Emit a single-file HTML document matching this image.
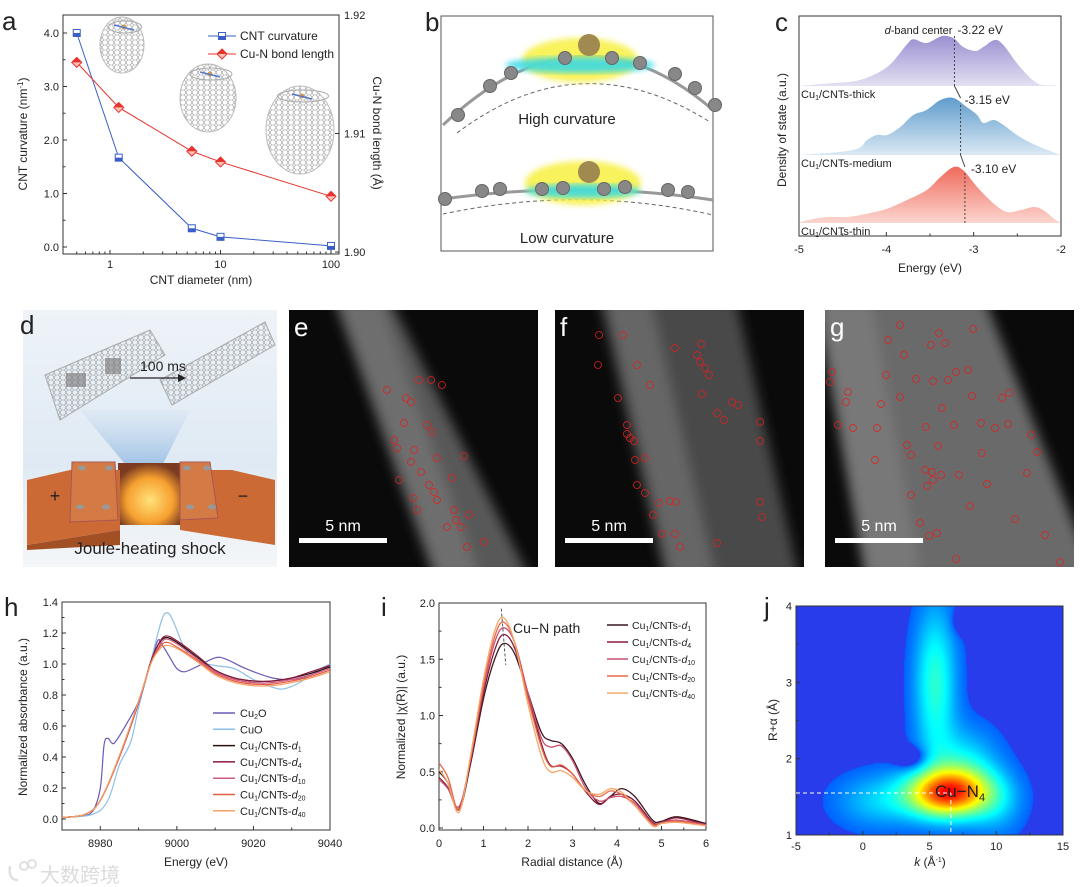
<!DOCTYPE html>
<html><head><meta charset="utf-8">
<style>
html,body{margin:0;padding:0;background:#fff;}
#wrap{position:relative;width:1080px;height:887px;overflow:hidden;font-family:"Liberation Sans",Arial,sans-serif;}
svg{position:absolute;left:0;top:0;}
canvas{position:absolute;}
</style></head>
<body>
<div id="wrap">
<canvas id="heat" width="267" height="229" style="left:796px;top:606px;"></canvas>
<svg id="svg" width="1080" height="887" viewBox="0 0 1080 887">
<defs>
<linearGradient id="gPur" x1="0" y1="0" x2="0" y2="1"><stop offset="0" stop-color="#9a8fd0"/><stop offset="1" stop-color="#e3e0f2"/></linearGradient>
<linearGradient id="gBlu" x1="0" y1="0" x2="0" y2="1"><stop offset="0" stop-color="#5f9ccc"/><stop offset="1" stop-color="#dbe9f4"/></linearGradient>
<linearGradient id="gRed" x1="0" y1="0" x2="0" y2="1"><stop offset="0" stop-color="#f06a5c"/><stop offset="1" stop-color="#fbd6cf"/></linearGradient>
<linearGradient id="gD" x1="0" y1="0" x2="0" y2="1"><stop offset="0" stop-color="#eef3f8"/><stop offset="0.6" stop-color="#dfeaf4"/><stop offset="1" stop-color="#f4f6f8"/></linearGradient>
<radialGradient id="gHot" cx="0.5" cy="0.6" r="0.6"><stop offset="0" stop-color="#ffe27a"/><stop offset="0.6" stop-color="#f7a030"/><stop offset="1" stop-color="#7a3b20"/></radialGradient>
<linearGradient id="gBeam" x1="0" y1="0" x2="0" y2="1"><stop offset="0" stop-color="#cfe0f0" stop-opacity="0.3"/><stop offset="1" stop-color="#6aa0d8" stop-opacity="0.6"/></linearGradient>
<pattern id="hex" width="6" height="5" patternUnits="userSpaceOnUse"><path d="M0 2.5 L1.5 0 L4.5 0 L6 2.5 L4.5 5 L1.5 5 Z" fill="none" stroke="#9a9a9a" stroke-width="0.6"/></pattern>
<filter id="blur3"><feGaussianBlur stdDeviation="3"/></filter>
<filter id="blur6"><feGaussianBlur stdDeviation="6"/></filter>
</defs>
<g id="root"></g>
</svg>
</div>
<script>
// ===== Panel a data =====
const aDiam = [0.5, 1.2, 5.5, 10, 100];
const aCurv = [4.0, 1.67, 0.35, 0.19, 0.02];
const aBond = [1.9160, 1.9122, 1.9085, 1.9076, 1.9047];
const aLeftTicks = [0, 1, 2, 3, 4];
const aRightTicks = [1.90, 1.91, 1.92];
const aXTicks = [1, 10, 100];
// ===== Panel c data =====
const cThickE = [-5,-4.64,-4.30,-3.99,-3.77,-3.69,-3.54,-3.36,-3.23,-3.12,-2.98,-2.89,-2.76,-2.66,-2.47,-2.27,-2.08,-2.0];
const cThickV = [0,2.7,6,19,41,46.7,43,50,47.7,39,35,39,46,41,19,2.7,0.5,0];
const cMedE = [-5,-4.38,-4.22,-4.11,-3.99,-3.84,-3.69,-3.54,-3.38,-3.23,-3.08,-2.96,-2.89,-2.77,-2.66,-2.47,-2.24,-2.0];
const cMedV = [0,5,15,20,20,28,40,45,55,57,48,40,32,35,30,18,8,0];
const cThinE = [-5,-4.91,-4.68,-4.45,-4.22,-3.99,-3.77,-3.54,-3.38,-3.23,-3.12,-2.96,-2.77,-2.62,-2.47,-2.31,-2.2,-2.08,-2.0];
const cThinV = [0,2.7,6,6,9.3,14.3,22.7,32.7,46,56,52.7,36,19.3,11,12.7,16,12.7,4.3,0];
const cCenters = [-3.22, -3.15, -3.10];
const cXTicks = [-5, -4, -3, -2];
// ===== Panel h data =====
const hCu2OE = [8970,8975,8978,8980,8981,8982,8983,8984,8987,8990,8993,8995,8996,8998,9000,9002,9005,9010,9013,9018,9025,9030,9035,9040];
const hCu2OV = [0.01,0.02,0.05,0.2,0.48,0.52,0.49,0.5,0.62,0.76,1.0,1.15,1.13,1.05,0.97,0.95,0.98,1.04,1.03,0.97,0.91,0.9,0.93,0.99];
const hCuOE = [8970,8978,8982,8985,8988,8990,8993,8996,8997.5,8999,9002,9005,9010,9015,9020,9025,9028,9032,9036,9040];
const hCuOV = [0.01,0.03,0.12,0.35,0.5,0.72,1.0,1.28,1.33,1.28,1.1,1.02,0.99,0.97,0.9,0.85,0.84,0.88,0.95,1.0];
const hSampE = [8970,8976,8980,8985,8990,8993,8995,8997,9000,9005,9010,9015,9020,9025,9030,9035,9040];
const hD1 = [0.01,0.03,0.12,0.40,0.75,1.00,1.12,1.17,1.14,1.05,0.96,0.91,0.89,0.89,0.91,0.94,0.98];
const hD4 = [0.01,0.03,0.12,0.40,0.75,1.00,1.12,1.18,1.15,1.06,0.96,0.91,0.89,0.89,0.91,0.95,0.99];
const hD10 = [0.01,0.03,0.12,0.40,0.75,0.99,1.10,1.16,1.13,1.04,0.95,0.90,0.88,0.88,0.90,0.93,0.97];
const hD20 = [0.01,0.03,0.12,0.40,0.76,0.99,1.09,1.14,1.11,1.03,0.94,0.89,0.87,0.87,0.89,0.92,0.96];
const hD40 = [0.01,0.03,0.12,0.41,0.76,0.99,1.08,1.12,1.10,1.02,0.93,0.88,0.86,0.86,0.88,0.91,0.95];
const hXTicks = [8980, 9000, 9020, 9040];
const hYTicks = [0,0.2,0.4,0.6,0.8,1.0,1.2,1.4];
// ===== Panel i data =====
const iR = [0,0.2,0.45,0.7,1.0,1.25,1.45,1.7,2.0,2.3,2.5,2.75,3.0,3.3,3.6,3.85,4.1,4.4,4.8,5.0,5.35,6.0];
const iD1 = [0.50,0.40,0.16,0.55,1.15,1.50,1.64,1.55,1.20,0.85,0.78,0.75,0.62,0.38,0.22,0.28,0.35,0.28,0.07,0.06,0.10,0.04];
const iD4 = [0.45,0.36,0.17,0.57,1.20,1.58,1.72,1.60,1.18,0.75,0.56,0.55,0.48,0.32,0.21,0.28,0.30,0.24,0.05,0.05,0.09,0.03];
const iD10 = [0.43,0.35,0.19,0.59,1.24,1.65,1.78,1.65,1.20,0.80,0.72,0.73,0.60,0.35,0.24,0.27,0.28,0.22,0.04,0.05,0.07,0.03];
const iD20 = [0.58,0.45,0.16,0.60,1.27,1.70,1.83,1.65,1.15,0.72,0.55,0.56,0.48,0.33,0.28,0.33,0.30,0.20,0.03,0.04,0.06,0.02];
const iD40 = [0.52,0.40,0.14,0.62,1.32,1.75,1.87,1.65,1.10,0.64,0.50,0.51,0.45,0.33,0.30,0.35,0.32,0.20,0.02,0.04,0.05,0.02];
const iXTicks = [0,1,2,3,4,5,6];
const iYTicks = [0,0.5,1.0,1.5,2.0];
// ===== Panel j data (wavelet components) =====
const jCompK = [6.3, 5.4, 7.5, 3.6, 7.3, 10.0, 1.0, 9.6];
const jCompR = [1.55, 3.0, 1.9, 2.02, 3.8, 1.4, 1.45, 2.95];
const jCompA = [0.80, 0.30, 0.22, -0.18, -0.08, 0.12, 0.16, -0.06];
const jCompSK = [2.2, 1.1, 1.8, 0.8, 0.5, 1.4, 2.2, 0.7];
const jCompSR = [0.22, 0.7, 0.35, 0.1, 0.12, 0.3, 0.25, 0.12];
const jXTicks = [-5,0,5,10,15];
const jYTicks = [1,2,3,4];

const NS = "http://www.w3.org/2000/svg";
const root = document.getElementById('root');
function el(tag, attrs, parent){ const e=document.createElementNS(NS,tag); for(const k in attrs) e.setAttribute(k,attrs[k]); (parent||root).appendChild(e); return e; }
function txt(x,y,s,size,anchor,parent,extra){ const t=el('text',Object.assign({x:x,y:y,'font-size':size,'text-anchor':anchor||'start',fill:'#222'},extra||{}),parent); t.innerHTML=s; return t; }
function smooth(pts){ if(pts.length<2) return ''; let d='M'+pts[0][0].toFixed(1)+' '+pts[0][1].toFixed(1);
  for(let i=0;i<pts.length-1;i++){ const p0=pts[i-1]||pts[i],p1=pts[i],p2=pts[i+1],p3=pts[i+2]||p2;
    const c1=[p1[0]+(p2[0]-p0[0])/6,p1[1]+(p2[1]-p0[1])/6], c2=[p2[0]-(p3[0]-p1[0])/6,p2[1]-(p3[1]-p1[1])/6];
    d+=' C'+c1[0].toFixed(1)+' '+c1[1].toFixed(1)+' '+c2[0].toFixed(1)+' '+c2[1].toFixed(1)+' '+p2[0].toFixed(1)+' '+p2[1].toFixed(1);}
  return d; }
function frame(x0,y0,x1,y1,g){ el('rect',{x:x0,y:y0,width:x1-x0,height:y1-y0,fill:'none',stroke:'#333','stroke-width':1},g); }

// ================= Panel a =================
(function(){
  const g=el('g',{});  
  const X0=63,X1=339,Y0=15,Y1=254;
  const xa=d=>110+Math.log10(d)*110.5, ya=c=>247-c*53.5, yr=b=>252-(b-1.90)/0.02*237;
  frame(X0,Y0,X1,Y1,g);
  txt(2,30,'a',26,'start',g);
  aLeftTicks.forEach(v=>{ const y=ya(v); el('line',{x1:X0,y1:y,x2:X0+4,y2:y,stroke:'#333'},g); txt(X0-4,y+4,v.toFixed(1),11,'end',g); const ym=ya(v+0.5); if(v<4) el('line',{x1:X0,y1:ym,x2:X0+2.5,y2:ym,stroke:'#333'},g);});
  aRightTicks.forEach(v=>{ const y=yr(v); el('line',{x1:X1,y1:y,x2:X1-4,y2:y,stroke:'#333'},g); txt(X1+5,y+4,v.toFixed(2),11,'start',g);});
  aXTicks.forEach(v=>{ const x=xa(v); el('line',{x1:x,y1:Y1,x2:x,y2:Y1-4,stroke:'#333'},g); txt(x,Y1+14,String(v),11,'middle',g);});
  [0.5,0.6,0.7,0.8,0.9,2,3,4,5,6,7,8,9,20,30,40,50,60,70,80,90].forEach(v=>{const x=xa(v); el('line',{x1:x,y1:Y1,x2:x,y2:Y1-2.5,stroke:'#333'},g);});
  const yl=txt(0,0,'CNT curvature (nm<tspan dy="-4" font-size="8">-1</tspan><tspan dy="4">)</tspan>',12,'middle',g,{transform:'translate(27,134) rotate(-90)'}); 
  const yr2=txt(0,0,'Cu-N bond length (Å)',12,'middle',g,{transform:'translate(373,133) rotate(90)'}); 
  const xl=txt(201,284,'CNT diameter (nm)',12,'middle',g); 
  [[122,45,22,28],[208,98,28,34],[300,130,34,44]].forEach(t=>{ const tg=el('g',{},g);  
    el('ellipse',{cx:t[0],cy:t[1],rx:t[2],ry:t[3],fill:'url(#hex)',stroke:'#bbb','stroke-width':1},tg);
    el('ellipse',{cx:t[0]+3,cy:t[1]-t[3]+10,rx:t[2]*0.75,ry:6,fill:'none',stroke:'#aaa','stroke-width':1},tg);
    el('circle',{cx:t[0]+2,cy:t[1]-t[3]+10,r:2.5,fill:'#d49a50'},tg);
    el('line',{x1:t[0]-8,y1:t[1]-t[3]+8,x2:t[0]+12,y2:t[1]-t[3]+13,stroke:'#5577cc','stroke-width':1.5},tg);});
  const bp=aDiam.map((d,i)=>[xa(d),ya(aCurv[i])]); const rp=aDiam.map((d,i)=>[xa(d),yr(aBond[i])]);
  const bl=el('polyline',{points:bp.map(p=>p.join(',')).join(' '),fill:'none',stroke:'#3a5fc6','stroke-width':1},g);  
  const rl=el('polyline',{points:rp.map(p=>p.join(',')).join(' '),fill:'none',stroke:'#e8322e','stroke-width':1},g);  
  function sq(x,y,gg){ el('rect',{x:x-3.5,y:y-3.5,width:7,height:7,fill:'#fff',stroke:'#3a5fc6','stroke-width':1},gg); el('rect',{x:x-3.5,y:y,width:7,height:3.5,fill:'#3a5fc6'},gg);}
  function dm(x,y,gg){ el('path',{d:`M${x} ${y-5}L${x+5} ${y}L${x} ${y+5}L${x-5} ${y}Z`,fill:'#fbc0b8',stroke:'#e8322e','stroke-width':1},gg); el('path',{d:`M${x-5} ${y}L${x+5} ${y}L${x} ${y-5}Z`,fill:'#e8322e'},gg);}
  bp.forEach(p=>{const m=el('g',{},g);   sq(p[0],p[1],m);});
  rp.forEach(p=>{const m=el('g',{},g);   dm(p[0],p[1],m);});
  const lg=el('g',{},g);  
  el('line',{x1:208,y1:36,x2:236,y2:36,stroke:'#3a5fc6'},lg); sq(222,36,lg); txt(240,40,'CNT curvature',12,'start',lg);
  el('line',{x1:208,y1:54,x2:236,y2:54,stroke:'#e8322e'},lg); dm(222,54,lg); txt(240,58,'Cu-N bond length',12,'start',lg);
})();

// ================= Panel b =================
(function(){
  const g=el('g',{});  
  txt(425,31,'b',26,'start',g);
  el('rect',{x:441,y:16,width:272,height:235,fill:'#fff',stroke:'#555','stroke-width':1},g);
  el('path',{d:'M457 133 Q580 40 710 122',fill:'none',stroke:'#666','stroke-dasharray':'4,3'},g);
  el('path',{d:'M443 125 Q580 -5 713 110',fill:'none',stroke:'#999','stroke-width':3},g);
  el('ellipse',{cx:580,cy:60,rx:58,ry:22,fill:'#f7f040',opacity:0.85,filter:'url(#blur3)'},g);
  el('ellipse',{cx:580,cy:65,rx:75,ry:8,fill:'#30d8e8',opacity:0.85,filter:'url(#blur3)'},g);
  el('circle',{cx:589,cy:45,r:11,fill:'#a08a50'},g);
  [[458,115],[490,86],[511,73],[565,58],[612,58],[640,63],[675,74],[695,88],[715,105]].forEach(p=>el('circle',{cx:p[0],cy:p[1],r:6.5,fill:'#888',stroke:'#666'},g));
  txt(567,124,'High curvature',15,'middle',g);
  el('path',{d:'M443 214 Q580 185 713 215',fill:'none',stroke:'#666','stroke-dasharray':'4,3'},g);
  el('path',{d:'M443 199 Q580 180 713 200',fill:'none',stroke:'#999','stroke-width':3},g);
  el('ellipse',{cx:583,cy:183,rx:58,ry:22,fill:'#f7f040',opacity:0.85,filter:'url(#blur3)'},g);
  el('ellipse',{cx:583,cy:191,rx:58,ry:7,fill:'#30d8e8',opacity:0.85,filter:'url(#blur3)'},g);
  el('circle',{cx:589,cy:172,r:11,fill:'#a08a50'},g);
  [[445,199],[482,191],[500,189],[542,189],[563,188],[604,189],[625,187],[668,190],[688,192]].forEach(p=>el('circle',{cx:p[0],cy:p[1],r:6.5,fill:'#888',stroke:'#666'},g));
  txt(567,243,'Low curvature',15,'middle',g);
})();

// ================= Panel c =================
(function(){
  const g=el('g',{});  
  const X0=799,X1=1061,Y0=16,Y1=236;
  const xc=e=>X0+(e+5)/3*(X1-X0);
  txt(775,31,'c',26,'start',g);
  frame(X0,Y0,X1,Y1,g);
  const sets=[[cThickE,cThickV,86,'url(#gPur)','dos-thick'],[cMedE,cMedV,155,'url(#gBlu)','dos-medium'],[cThinE,cThinV,223,'url(#gRed)','dos-thin']];
  sets.forEach(s=>{ const pts=s[0].map((e,i)=>[xc(e),s[2]-s[1][i]]);
    const a=el('path',{d:smooth(pts)+` L${X1} ${s[2]} L${X0} ${s[2]} Z`,fill:s[3]},g);  });
  const bases=[86,155,223];
  cCenters.forEach((c,i)=>{ const x=xc(c); el('line',{x1:x,y1:bases[i]-50,x2:x,y2:bases[i],stroke:'#444','stroke-dasharray':'2,2'},g);
    if(i<2){ el('line',{x1:x,y1:bases[i],x2:xc(cCenters[i+1]),y2:bases[i]+12,stroke:'#444'},g);} });
  txt(xc(cCenters[0])+3,34,'-3.22 eV',12,'start',g);
  txt(xc(cCenters[0])-2,34,'<tspan font-style="italic">d</tspan>-band center',11,'end',g);
  txt(xc(cCenters[1])+4,104,'-3.15 eV',12,'start',g);
  txt(xc(cCenters[2])+6,173,'-3.10 eV',12,'start',g);
  txt(801,98,'Cu<tspan font-size="7" dy="2">1</tspan><tspan dy="-2">/CNTs-thick</tspan>',11,'start',g);
  txt(801,167,'Cu<tspan font-size="7" dy="2">1</tspan><tspan dy="-2">/CNTs-medium</tspan>',11,'start',g);
  txt(801,235,'Cu<tspan font-size="7" dy="2">1</tspan><tspan dy="-2">/CNTs-thin</tspan>',11,'start',g);
  cXTicks.forEach(v=>{const x=xc(v); el('line',{x1:x,y1:Y1,x2:x,y2:Y1-4,stroke:'#333'},g); txt(x,Y1+17,String(v),11,'middle',g); if(v<-2){const xm=xc(v+0.5); el('line',{x1:xm,y1:Y1,x2:xm,y2:Y1-2.5,stroke:'#333'},g);} });
  txt(930,272,'Energy (eV)',12,'middle',g);
  txt(0,0,'Density of state (a.u.)',12,'middle',g,{transform:'translate(786,130) rotate(-90)'});
})();

// ================= Panel d =================
(function(){
  const g=el('g',{});  
  el('rect',{x:23,y:310,width:254,height:257,fill:'url(#gD)'},g);
  txt(20,334,'d',26,'start',g);
  el('path',{d:'M80 410 L190 410 L160 470 L130 470 Z',fill:'url(#gBeam)'},g);
  el('path',{d:'M45 375 L150 330 L165 355 L60 420 Z',fill:'url(#hex)',stroke:'#aaa'},g);
  el('path',{d:'M160 380 L265 322 L275 345 L172 405 Z',fill:'url(#hex)',stroke:'#aaa'},g);
  el('rect',{x:66,y:373,width:20,height:14,fill:'#777',opacity:0.6},g);
  el('rect',{x:105,y:358,width:16,height:16,fill:'#777',opacity:0.6},g);
  el('line',{x1:130,y1:378,x2:178,y2:378,stroke:'#222','stroke-width':1.3},g);
  el('path',{d:'M178 374 L186 378 L178 382 Z',fill:'#222'},g);
  txt(140,371,'100 ms',14,'start',g);
  el('rect',{x:118,y:463,width:64,height:62,fill:'url(#gHot)'},g);
  el('path',{d:'M27 480 L70 470 L120 470 L120 530 L27 545 Z',fill:'#cc6a36'},g);
  el('path',{d:'M27 545 L120 530 L120 545 L27 550 Z',fill:'#a34f24'},g);
  el('path',{d:'M72 462 L115 462 L118 520 L70 522 Z',fill:'#d47a44',stroke:'#a55'},g);
  el('path',{d:'M180 470 L232 470 L275 480 L275 545 L180 530 Z',fill:'#cc6a36'},g);
  el('path',{d:'M180 462 L210 462 L218 518 L180 520 Z',fill:'#d47a44',stroke:'#a55'},g);
  [[82,468],[109,468],[80,507],[106,507],[187,468],[207,468],[190,507],[212,507]].forEach(p=>el('ellipse',{cx:p[0],cy:p[1],rx:4,ry:2.5,fill:'#999'},g));
  txt(55,502,'+',18,'middle',g); txt(243,502,'−',18,'middle',g);
  txt(150,554,'Joule-heating shock',17,'middle',g);
})();

// ================= Panels e f g (STEM images) =================
function stem(x0,letter,band,circles,bg,edge){
  const g=el('g',{});  
  el('rect',{x:x0,y:310,width:249,height:257,fill:'#0a0a0a'},g);
  const cp=el('clipPath',{id:'clip'+letter},g); el('rect',{x:x0,y:310,width:249,height:257},cp);
  const inner=el('g',{'clip-path':'url(#clip'+letter+')'},g);
  el('path',{d:`M${x0+band[0]} 300 L${x0+band[1]} 300 L${x0+band[3]} 577 L${x0+band[2]} 577 Z`,fill:bg,filter:'url(#blur6)'},inner);
  el('path',{d:`M${x0+band[0]+6} 300 L${x0+band[0]+6+edge} 300 L${x0+band[2]+6+edge} 577 L${x0+band[2]+6} 577 Z`,fill:'#8a8a8a',opacity:0.45,filter:'url(#blur6)'},inner);
  circles.forEach(c=>el('circle',{cx:x0+c[0],cy:310+c[1],r:3.5,fill:'none',stroke:'#e02020','stroke-width':0.8},inner));
  txt(x0+5,336,letter,26,'start',inner,{fill:'#fff'});
  el('rect',{x:x0+10,y:538,width:88,height:5,fill:'#fff'},inner);
  txt(x0+54,531,'5 nm',16,'middle',inner,{fill:'#fff'});
}
stem(289,'e',[45,101,145,240],[[130,70],[142,70],[153,75],[98,80],[117,88],[122,92],[115,113],[138,115],[143,122],[105,130],[108,138],[125,140],[122,152],[148,148],[175,146],[132,162],[110,170],[163,168],[140,175],[145,182],[124,188],[148,190],[128,200],[165,200],[180,205],[167,210],[172,217],[158,217],[195,232],[178,237]],'#585858',40);
stem(555,'f',[45,181,110,244],[[44,25],[68,25],[43,55],[82,55],[120,38],[146,34],[142,45],[145,52],[150,58],[154,65],[95,75],[63,88],[147,84],[177,92],[183,95],[162,103],[169,110],[72,115],[72,124],[75,128],[79,131],[205,112],[205,131],[80,150],[90,148],[82,175],[90,183],[104,193],[115,191],[98,205],[121,192],[205,192],[207,207],[107,224],[120,224],[125,237],[162,233]],'#4a4a4a',45);
stem(825,'g',[-10,160,40,270],[[75,15],[114,23],[148,19],[63,30],[106,35],[120,33],[79,45],[143,60],[61,65],[91,69],[108,71],[123,70],[131,62],[7,62],[5,72],[23,82],[21,92],[56,94],[75,87],[147,86],[177,88],[184,83],[117,98],[13,115],[28,118],[52,118],[101,117],[129,115],[156,113],[170,118],[183,114],[206,125],[82,135],[113,136],[157,143],[86,145],[50,150],[212,142],[100,160],[107,162],[108,170],[116,165],[134,165],[102,176],[162,174],[86,185],[145,196],[202,163],[190,209],[95,213],[104,226],[112,223],[220,225],[131,249],[235,252]],'#6a6a6a',50);

// ================= Panel h =================
(function(){
  const g=el('g',{});  
  const X0=62,X1=330,Y0=602,Y1=830;
  const xh=E=>X0+(E-8970)/70*(X1-X0), yh=v=>819-v*155;
  txt(4,616,'h',26,'start',g);
  frame(X0,Y0,X1,Y1,g);
  hYTicks.forEach(v=>{const y=yh(v); el('line',{x1:X0,y1:y,x2:X0+4,y2:y,stroke:'#333'},g); txt(X0-4,y+4,v.toFixed(1),11,'end',g); if(v<1.4){const ym=yh(v+0.1); el('line',{x1:X0,y1:ym,x2:X0+2.5,y2:ym,stroke:'#333'},g);} });
  hXTicks.forEach(v=>{const x=xh(v); el('line',{x1:x,y1:Y1,x2:x,y2:Y1-4,stroke:'#333'},g); txt(x,Y1+17,String(v),11,'middle',g); const xm=xh(v-10); el('line',{x1:xm,y1:Y1,x2:xm,y2:Y1-2.5,stroke:'#333'},g);});
  txt(196,866,'Energy (eV)',12,'middle',g);
  txt(0,0,'Normalized absorbance (a.u.)',12,'middle',g,{transform:'translate(27,717) rotate(-90)'});
  const series=[[hCu2OE,hCu2OV,'#6a5ab8','Cu<tspan font-size="7" dy="2">2</tspan><tspan dy="-2">O</tspan>','cu2o-line'],
    [hCuOE,hCuOV,'#8cc0e6','CuO','cuo-line'],
    [hSampE,hD1,'#2a1010','Cu<tspan font-size="7" dy="2">1</tspan><tspan dy="-2">/CNTs-</tspan><tspan font-style="italic">d</tspan><tspan font-size="7" dy="2">1</tspan>','d1-line'],
    [hSampE,hD4,'#8a1838','Cu<tspan font-size="7" dy="2">1</tspan><tspan dy="-2">/CNTs-</tspan><tspan font-style="italic">d</tspan><tspan font-size="7" dy="2">4</tspan>','d4-line'],
    [hSampE,hD10,'#d05a80','Cu<tspan font-size="7" dy="2">1</tspan><tspan dy="-2">/CNTs-</tspan><tspan font-style="italic">d</tspan><tspan font-size="7" dy="2">10</tspan>','d10-line'],
    [hSampE,hD20,'#e85a40','Cu<tspan font-size="7" dy="2">1</tspan><tspan dy="-2">/CNTs-</tspan><tspan font-style="italic">d</tspan><tspan font-size="7" dy="2">20</tspan>','d20-line'],
    [hSampE,hD40,'#f5a060','Cu<tspan font-size="7" dy="2">1</tspan><tspan dy="-2">/CNTs-</tspan><tspan font-style="italic">d</tspan><tspan font-size="7" dy="2">40</tspan>','d40-line']];
  series.forEach((s,i)=>{ const p=el('path',{d:smooth(s[0].map((e,j)=>[xh(e),yh(s[1][j])])),fill:'none',stroke:s[2],'stroke-width':1.2},g);  
    const y=713+i*16.3; const lg=el('g',{},g);  
    el('line',{x1:213,y1:y,x2:235,y2:y,stroke:s[2],'stroke-width':1.5},lg); txt(240,y+4,s[3],11,'start',lg);});
})();

// ================= Panel i =================
(function(){
  const g=el('g',{});  
  const X0=439,X1=706,Y0=603,Y1=830;
  const xi=r=>X0+r*(X1-X0)/6, yi=v=>828-v*112.5;
  txt(381,616,'i',26,'start',g);
  frame(X0,Y0,X1,Y1,g);
  iYTicks.forEach(v=>{const y=yi(v); el('line',{x1:X0,y1:y,x2:X0+4,y2:y,stroke:'#333'},g); txt(X0-4,y+4,v.toFixed(1),11,'end',g); if(v<2){const ym=yi(v+0.25); el('line',{x1:X0,y1:ym,x2:X0+2.5,y2:ym,stroke:'#333'},g);} });
  iXTicks.forEach(v=>{const x=xi(v); el('line',{x1:x,y1:Y1,x2:x,y2:Y1-4,stroke:'#333'},g); txt(x,Y1+17,String(v),11,'middle',g); if(v<6){const xm=xi(v+0.5); el('line',{x1:xm,y1:Y1,x2:xm,y2:Y1-2.5,stroke:'#333'},g);} });
  txt(572,866,'Radial distance (Å)',12,'middle',g);
  txt(0,0,'Normalized |χ(R)| (a.u.)',12,'middle',g,{transform:'translate(405,717) rotate(-90)'});
  const cols=['#3a1820','#8a1838','#c85070','#e8684a','#f5a868'];
  const data=[iD1,iD4,iD10,iD20,iD40]; const subs=['1','4','10','20','40'];
  data.forEach((d,i)=>{ const p=el('path',{d:smooth(iR.map((r,j)=>[xi(r),yi(d[j])])),fill:'none',stroke:cols[i],'stroke-width':1.3},g);  
    const y=625+i*17; const lg=el('g',{},g);  
    el('line',{x1:607,y1:y,x2:628,y2:y,stroke:cols[i],'stroke-width':1.5},lg);
    txt(632,y+4,'Cu<tspan font-size="7" dy="2">1</tspan><tspan dy="-2">/CNTs-</tspan><tspan font-style="italic">d</tspan><tspan font-size="7" dy="2">'+subs[i]+'</tspan>',10.5,'start',lg);});
  el('line',{x1:xi(1.4),y1:yi(1.95),x2:xi(1.5),y2:yi(1.45),stroke:'#555','stroke-dasharray':'3,2'},g);
  txt(513,633,'Cu−N path',14,'start',g);
})();

// ================= Panel j =================
(function(){
  const g=el('g',{});  
  const X0=796,X1=1063,Y0=606,Y1=835;
  const xj=k=>X0+(k+5)/20*(X1-X0), yj=r=>Y1-(r-1)/3*(Y1-Y0);
  const cv=document.getElementById('heat'), ctx=cv.getContext('2d'); const W=cv.width,H=cv.height; const img=ctx.createImageData(W,H);
  function jet(t){ t=Math.max(0,Math.min(1,t)); const r=Math.min(1,Math.max(0,1.5-Math.abs(4*t-3))), gg=Math.min(1,Math.max(0,1.5-Math.abs(4*t-2))), b=Math.min(1,Math.max(0,1.5-Math.abs(4*t-1))); return [r*255,gg*255,b*255]; }
  for(let py=0;py<H;py++){ const R=1+(H-py)/H*3; for(let px=0;px<W;px++){ const k=-5+px/W*20; let v=0;
    for(let c=0;c<jCompK.length;c++){ const dk=(k-jCompK[c])/jCompSK[c], dr=(R-jCompR[c])/jCompSR[c]; v+=jCompA[c]*Math.exp(-0.5*(dk*dk+dr*dr)); }
    let col; if(v<=0.03){col=[40,60,235];} else { const t=0.2+0.72*Math.min(1,v); col=jet(t); }
    const i=(py*W+px)*4; img.data[i]=col[0]; img.data[i+1]=col[1]; img.data[i+2]=col[2]; img.data[i+3]=255; } }
  ctx.putImageData(img,0,0);
  txt(764,616,'j',26,'start',g);
  frame(X0,Y0,X1,Y1,g);
  jYTicks.forEach(v=>{const y=yj(v); el('line',{x1:X0,y1:y,x2:X0+4,y2:y,stroke:'#333'},g); txt(X0-4,y+4,String(v),11,'end',g); if(v<4){const ym=yj(v+0.5); el('line',{x1:X0,y1:ym,x2:X0+2.5,y2:ym,stroke:'#333'},g);} });
  jXTicks.forEach(v=>{const x=xj(v); el('line',{x1:x,y1:Y1,x2:x,y2:Y1-4,stroke:'#333'},g); txt(x,Y1+15,String(v),11,'middle',g); if(v<15){const xm=xj(v+2.5); el('line',{x1:xm,y1:Y1,x2:xm,y2:Y1-2.5,stroke:'#333'},g);} });
  txt(930,866,'<tspan font-style="italic">k</tspan> (Å<tspan font-size="7" dy="-4">-1</tspan><tspan dy="4">)</tspan>',12,'middle',g);
  txt(0,0,'R+α (Å)',12,'middle',g,{transform:'translate(777,720) rotate(-90)'});
  el('line',{x1:X0,y1:yj(1.55),x2:xj(6.6),y2:yj(1.55),stroke:'#fff','stroke-dasharray':'4,3'},g);
  el('line',{x1:xj(6.6),y1:yj(1.55),x2:xj(6.6),y2:Y1,stroke:'#fff','stroke-dasharray':'4,3'},g);
  txt(935,797,'Cu−N<tspan font-size="11" dy="4">4</tspan>',17,'start',g);
})();

// watermark
(function(){
  const g=el('g',{opacity:0.9});  
  el('path',{d:'M10 866 Q8 880 18 880',fill:'none',stroke:'#ddd','stroke-width':2.5},g);
  el('circle',{cx:24,cy:866,r:4,fill:'none',stroke:'#ddd','stroke-width':2},g);
  el('circle',{cx:32,cy:864,r:4,fill:'none',stroke:'#ddd','stroke-width':2},g);
  txt(40,882,'大数跨境',20,'start',g,{fill:'#d8d8d8','font-family':'"Liberation Sans","Noto Sans CJK SC",sans-serif'});
})();
</script>
</body></html>
